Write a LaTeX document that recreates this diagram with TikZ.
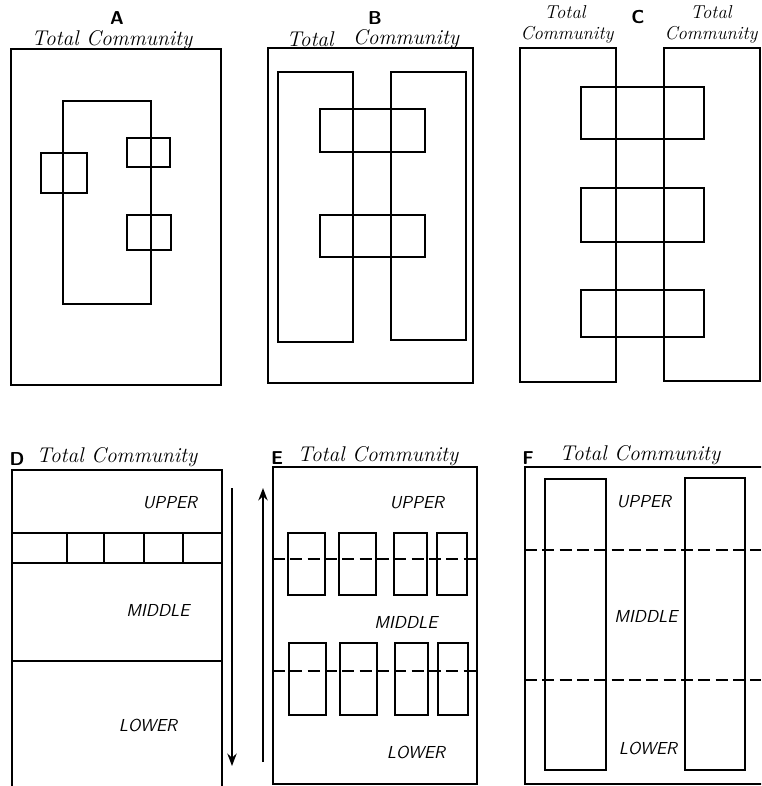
\documentclass[tikz,border=0pt]{standalone}
\usetikzlibrary{arrows.meta}

\begin{document}
\begin{tikzpicture}[x=0.75pt,y=-0.75pt,>=Stealth,line width=1.4pt,
    tc/.style={font=\fontsize{16}{18}\selectfont\itshape,inner sep=0pt},
    tcs/.style={font=\fontsize{14}{16}\selectfont\itshape,inner sep=0pt},
    strat/.style={font=\fontsize{13}{15}\selectfont\sffamily\itshape,inner sep=0pt},
    tag/.style={font=\fontsize{14}{16}\selectfont\sffamily\bfseries,inner sep=0pt},
    dsh/.style={dash pattern=on 9pt off 4pt}]
    \useasboundingbox (0,0) rectangle (761,786);
    \clip (0,0) rectangle (761,786);

    % A: egy csoport, szetszort kis csoportok
    \node[tag] (tagA) at (117,18) {A};
    \node[tc] (totA) at (112,40) {Total Community};
    \draw (11,49) rectangle (221,385);
    \draw (63,101) rectangle (151,304);
    \draw (41,153) rectangle (87,193);
    \draw (127,138) rectangle (170,167);
    \draw (127,215) rectangle (171,250);

    % B: ket csoport, kozos kis csoportok
    \node[tag] (tagB) at (375,18) {B};
    \node[tc] (totB1) at (310,39) {Total};
    \node[tc] (totB2) at (406,39) {Community};
    \draw (268,48) rectangle (473,383);
    \draw (278,72) rectangle (353,342);
    \draw (391,72) rectangle (466,340);
    \draw (320,109) rectangle (425,152);
    \draw (320,215) rectangle (425,257);

    % C: ket kozosseg, atnyulo csoportok
    \node[tag] (tagC) at (638,17) {C};
    \node[tcs] (totC1) at (565,12) {Total};
    \node[tcs] (comC1) at (567,35) {Community};
    \node[tcs] (totC2) at (711,12) {Total};
    \node[tcs] (comC2) at (711,35) {Community};
    \draw (520,48) rectangle (616,382);
    \draw (664,48) rectangle (760,381);
    \foreach \ya/\yb in {87/139,188/242,290/337}
        \draw (581,\ya) rectangle (704,\yb);

    % D: retegek, egy sav a felso reteg alatt
    \node[tag] (tagD) at (17,459) {D};
    \node[tc] (totD) at (117,457) {Total Community};
    \draw (12,470) rectangle (222,790);
    \draw (12,533) -- (222,533);
    \draw (12,563) -- (222,563);
    \foreach \x in {67,104,144,183}
        \draw (\x,533) -- (\x,563);
    \draw (12,661) -- (222,661);
    \node[strat] (upD) at (170,503) {UPPER};
    \node[strat] (midD) at (158,610) {MIDDLE};
    \node[strat] (lowD) at (148,725) {LOWER};
    \draw[->] (232,488) -- (232,766);

    % E: retegek hataran atnyulo csoportok
    \node[tag] (tagE) at (277,458) {E};
    \node[tc] (totE) at (378,456) {Total Community};
    \draw[->] (263,762) -- (263,488);
    \draw (273,467) rectangle (477,784);
    \foreach \xa/\xb in {288/325,339/376,394/427,437/467} {
        \draw (\xa,533) rectangle (\xb,595);
        \draw (\xa+1,643) rectangle (\xb+1,715);
    }
    \draw[dsh] (273,559) -- (477,559);
    \draw[dsh] (273,671) -- (477,671);
    \node[strat] (upE) at (417,503) {UPPER};
    \node[strat] (midE) at (406,622) {MIDDLE};
    \node[strat] (lowE) at (416,752) {LOWER};

    % F: minden retegen atnyulo csoportok
    \node[tag] (tagF) at (528,458) {F};
    \node[tc] (totF) at (640,455) {Total Community};
    \draw (525,467) rectangle (770,784);
    \draw (545,479) rectangle (606,770);
    \draw (685,478) rectangle (745,770);
    \draw[dsh] (525,550) -- (761,550);
    \draw[dsh] (525,680) -- (761,680);
    \node[strat] (upF) at (644,502) {UPPER};
    \node[strat] (midF) at (646,616) {MIDDLE};
    \node[strat] (lowF) at (648,748) {LOWER};
\end{tikzpicture}
\end{document}
